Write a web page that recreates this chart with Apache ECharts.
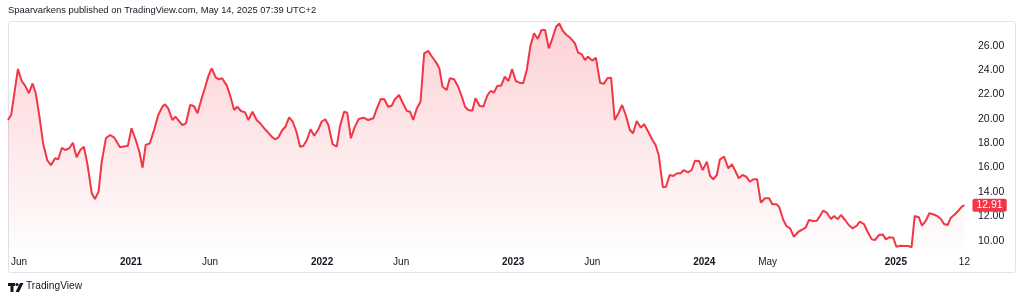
<!DOCTYPE html>
<html>
<head>
<meta charset="utf-8">
<script src="https://cdn.jsdelivr.net/npm/echarts@6/dist/echarts.min.js"></script>
<style>
html,body{margin:0;padding:0;background:#fff;}
#chart{width:1024px;height:301px;}
</style>
</head>
<body>
<div id="chart"></div>
<script>
// Weekly closing prices
const dates = [
'2020-05-11','2020-05-17','2020-05-30','2020-06-06','2020-06-13','2020-06-20','2020-06-27','2020-07-03','2020-07-10','2020-07-17',
'2020-07-25','2020-08-01','2020-08-09','2020-08-15','2020-08-22','2020-08-28','2020-09-05','2020-09-12','2020-09-19','2020-09-26',
'2020-10-03','2020-10-10','2020-10-18','2020-10-24','2020-10-31','2020-11-06','2020-11-14','2020-11-22','2020-11-30','2020-12-11',
'2020-12-26','2021-01-02','2021-01-10','2021-01-17','2021-01-23','2021-01-29','2021-02-06','2021-02-14','2021-02-22','2021-03-02',
'2021-03-07','2021-03-13','2021-03-21','2021-03-27','2021-04-09','2021-04-16','2021-04-24','2021-05-01','2021-05-08','2021-05-16',
'2021-05-22','2021-05-29','2021-06-04','2021-06-12','2021-06-18','2021-06-24','2021-07-03','2021-07-10','2021-07-17','2021-07-23',
'2021-07-30','2021-08-07','2021-08-13','2021-08-21','2021-08-29','2021-09-06','2021-09-14','2021-09-20','2021-09-27','2021-10-03',
'2021-10-09','2021-10-17','2021-10-23','2021-10-30','2021-11-06','2021-11-13','2021-11-20','2021-11-26','2021-12-03','2021-12-10',
'2021-12-17','2021-12-25','2021-12-31','2022-01-07','2022-01-13','2022-01-21','2022-01-29','2022-02-04','2022-02-12','2022-02-18',
'2022-02-25','2022-03-04','2022-03-12','2022-03-21','2022-03-30','2022-04-09','2022-04-15','2022-04-23','2022-04-30','2022-05-07',
'2022-05-14','2022-05-20','2022-05-28','2022-06-03','2022-06-12','2022-06-18','2022-06-24','2022-07-01','2022-07-08','2022-07-15',
'2022-07-23','2022-07-29','2022-08-06','2022-08-13','2022-08-19','2022-08-27','2022-09-02','2022-09-10','2022-09-18','2022-09-25',
'2022-10-01','2022-10-07','2022-10-15','2022-10-21','2022-10-29','2022-11-05','2022-11-13','2022-11-19','2022-11-25','2022-12-02',
'2022-12-09','2022-12-16','2022-12-23','2022-12-30','2023-01-06','2023-01-13','2023-01-20','2023-01-27','2023-02-03','2023-02-10',
'2023-02-17','2023-02-24','2023-03-03','2023-03-10','2023-03-17','2023-03-24','2023-03-30','2023-04-06','2023-04-13','2023-04-21',
'2023-04-29','2023-05-05','2023-05-12','2023-05-18','2023-05-24','2023-06-01','2023-06-08','2023-06-16','2023-06-23','2023-06-30',
'2023-07-07','2023-07-14','2023-07-21','2023-07-28','2023-08-04','2023-08-12','2023-08-18','2023-08-25','2023-09-02','2023-09-08',
'2023-09-16','2023-09-24','2023-09-30','2023-10-06','2023-10-14','2023-10-20','2023-10-27','2023-11-03','2023-11-10','2023-11-17',
'2023-11-23','2023-12-01','2023-12-08','2023-12-14','2023-12-22','2023-12-29','2024-01-06','2024-01-12','2024-01-18','2024-01-25',
'2024-01-31','2024-02-08','2024-02-16','2024-02-23','2024-03-01','2024-03-07','2024-03-14','2024-03-21','2024-03-28','2024-04-04',
'2024-04-11','2024-04-18','2024-04-26','2024-05-04','2024-05-10','2024-05-18','2024-05-23','2024-05-31','2024-06-06','2024-06-13',
'2024-06-20','2024-06-29','2024-07-05','2024-07-13','2024-07-19','2024-07-27','2024-08-03','2024-08-09','2024-08-15','2024-08-22',
'2024-08-30','2024-09-05','2024-09-12','2024-09-18','2024-09-26','2024-10-03','2024-10-10','2024-10-18','2024-10-24','2024-11-01',
'2024-11-08','2024-11-16','2024-11-22','2024-11-30','2024-12-07','2024-12-13','2024-12-19','2024-12-27','2025-01-02','2025-01-10',
'2025-01-18','2025-01-25','2025-01-31','2025-02-06','2025-02-14','2025-02-20','2025-02-27','2025-03-06','2025-03-13','2025-03-21',
'2025-03-28','2025-04-03','2025-04-10','2025-04-16','2025-04-24','2025-04-30','2025-05-07','2025-05-12'
];
const prices = [
19.90,20.31,24.09,23.10,22.70,22.10,22.90,22.10,20.20,18.00,
16.60,16.20,16.76,16.68,17.63,17.44,17.58,18.04,16.84,17.44,
17.71,16.21,13.89,13.42,14.02,16.48,18.40,18.67,18.45,17.66,
17.79,19.22,18.26,17.30,15.99,17.85,17.99,19.08,20.31,21.00,
21.19,20.86,19.90,20.17,19.49,19.63,21.13,21.05,20.45,21.68,
22.50,23.54,24.14,23.37,23.24,23.32,22.72,21.81,20.72,20.99,
20.64,20.53,19.90,20.58,19.90,19.57,19.14,18.86,18.53,18.32,
18.45,19.08,19.35,20.12,19.76,18.94,17.71,17.77,18.26,19.14,
18.61,19.14,19.76,19.96,19.49,17.93,17.71,19.35,20.58,20.50,
18.40,19.30,19.98,20.09,19.90,20.04,20.78,21.62,21.60,20.99,
21.07,21.60,21.95,21.40,20.64,20.58,19.90,20.86,21.40,25.37,
25.56,25.15,24.68,24.14,22.63,22.36,23.32,23.24,22.63,21.81,
20.99,20.72,20.66,21.68,21.05,21.00,21.95,22.28,22.14,22.72,
22.72,23.45,23.10,24.09,23.10,22.96,22.91,24.00,26.00,27.01,
26.55,27.28,27.28,25.78,26.60,27.55,27.83,27.20,26.87,26.60,
26.19,25.42,25.29,24.82,25.09,24.77,25.01,22.96,22.86,23.32,
23.37,19.90,20.45,21.13,20.31,19.08,18.81,19.82,19.27,19.57,
18.94,18.26,17.85,17.03,14.38,14.43,15.39,15.31,15.53,15.53,
15.80,15.61,15.80,16.56,16.54,15.80,16.48,15.33,15.04,15.39,
16.68,16.89,15.94,16.27,15.66,15.12,15.39,15.25,14.84,15.04,
15.04,13.12,13.48,13.48,12.99,12.99,12.79,11.70,11.21,11.02,
10.33,10.74,10.88,11.10,11.70,11.62,11.64,12.03,12.46,12.30,
11.78,12.03,11.76,12.11,11.70,11.29,11.02,11.21,11.56,11.37,
10.74,10.11,10.06,10.47,10.52,10.11,10.28,10.25,9.51,9.59,
9.57,9.57,9.46,12.03,11.92,11.23,11.62,12.25,12.17,12.03,
11.78,11.37,11.29,11.89,12.17,12.44,12.79,12.91
];
// Time axis tick labels
const xTickDates = ['2020-06-01','2021-01-01','2021-06-01','2022-01-01','2022-06-01','2023-01-01','2023-06-01','2024-01-01','2024-05-01','2025-01-01','2025-05-12'];
const xTickLabels = ['Jun','2021','Jun','2022','Jun','2023','Jun','2024','May','2025','12'];
// Price axis tick labels
const yTicks = [10,12,14,16,18,20,22,24,26];

function ts(s){const p=s.split('-').map(Number);return Date.UTC(p[0],p[1]-1,p[2]);}
const xTickTs = xTickDates.map(ts);
const seriesData = dates.map((d,i)=>[ts(d),prices[i]]);

const chart = echarts.init(document.getElementById('chart'), null, {renderer:'canvas'});
const font = '"Liberation Sans", Arial, sans-serif';
chart.setOption({
  animation:false,
  backgroundColor:'#ffffff',
  textStyle:{fontFamily:font},
  grid:{left:8,right:58,top:21,bottom:51,containLabel:false},
  xAxis:{
    type:'value',
    min:ts('2020-05-11'),
    max:ts('2025-05-15'),
    axisLine:{show:false},
    axisTick:{show:false},
    splitLine:{show:false},
    axisLabel:{
      customValues:xTickTs,
      margin:7,
      fontSize:10,
      color:'#131722',
      hideOverlap:false,
      formatter:function(v){
        let best=-1,bd=Infinity;
        xTickTs.forEach((t,i)=>{const d=Math.abs(t-v);if(d<bd){bd=d;best=i;}});
        const lab = xTickLabels[best];
        return /^\d{4}$/.test(lab) ? '{b|'+lab+'}' : lab;
      },
      rich:{b:{fontWeight:'bold',fontSize:10,color:'#131722',fontFamily:font}}
    }
  },
  yAxis:{
    type:'value',
    position:'right',
    min:9.24,
    max:28.02,
    axisLine:{show:false},
    axisTick:{show:false},
    splitLine:{show:false},
    axisLabel:{
      customValues:yTicks,
      margin:12,
      fontSize:10.5,
      color:'#131722',
      align:'left',
      formatter:function(v){return v.toFixed(2);}
    }
  },
  series:[{
    type:'line',
    data:seriesData,
    showSymbol:false,
    symbol:'none',
    lineStyle:{color:'#f23645',width:2},
    areaStyle:{
      origin:'start',
      color:new echarts.graphic.LinearGradient(0,0,0,1,[
        {offset:0,color:'rgba(242,54,69,0.32)'},
        {offset:1,color:'rgba(242,54,69,0.02)'}
      ])
    },
    endLabel:{
      show:true,
      distance:8,
      formatter:function(p){return p.value[1].toFixed(2);},
      backgroundColor:'#f23645',
      color:'#ffffff',
      fontSize:10.5,
      padding:[1,4,1,4],
      borderRadius:2,
      fontFamily:font
    }
  }],
  graphic:[
    {type:'rect',silent:true,shape:{x:8.5,y:21.5,width:1007,height:251,r:2},style:{fill:'none',stroke:'#e0e3eb',lineWidth:1}},
    {type:'text',left:8,top:6,style:{text:'Spaarvarkens published on TradingView.com, May 14, 2025 07:39 UTC+2',fontSize:9.4,fill:'#131722',fontFamily:font}},
    {type:'rect',silent:true,shape:{x:8,y:283,width:7,height:3},style:{fill:'#131722'}},
    {type:'rect',silent:true,shape:{x:10.5,y:283,width:3,height:9},style:{fill:'#131722'}},
    {type:'circle',silent:true,shape:{cx:17,cy:284.5,r:1.6},style:{fill:'#131722'}},
    {type:'polygon',silent:true,shape:{points:[[20,283],[23.5,283],[19,292],[15.5,292]]},style:{fill:'#131722'}},
    {type:'text',left:26,top:281,style:{text:'TradingView',fontSize:10.2,fill:'#131722',fontFamily:font}}
  ]
});
</script>
</body>
</html>
